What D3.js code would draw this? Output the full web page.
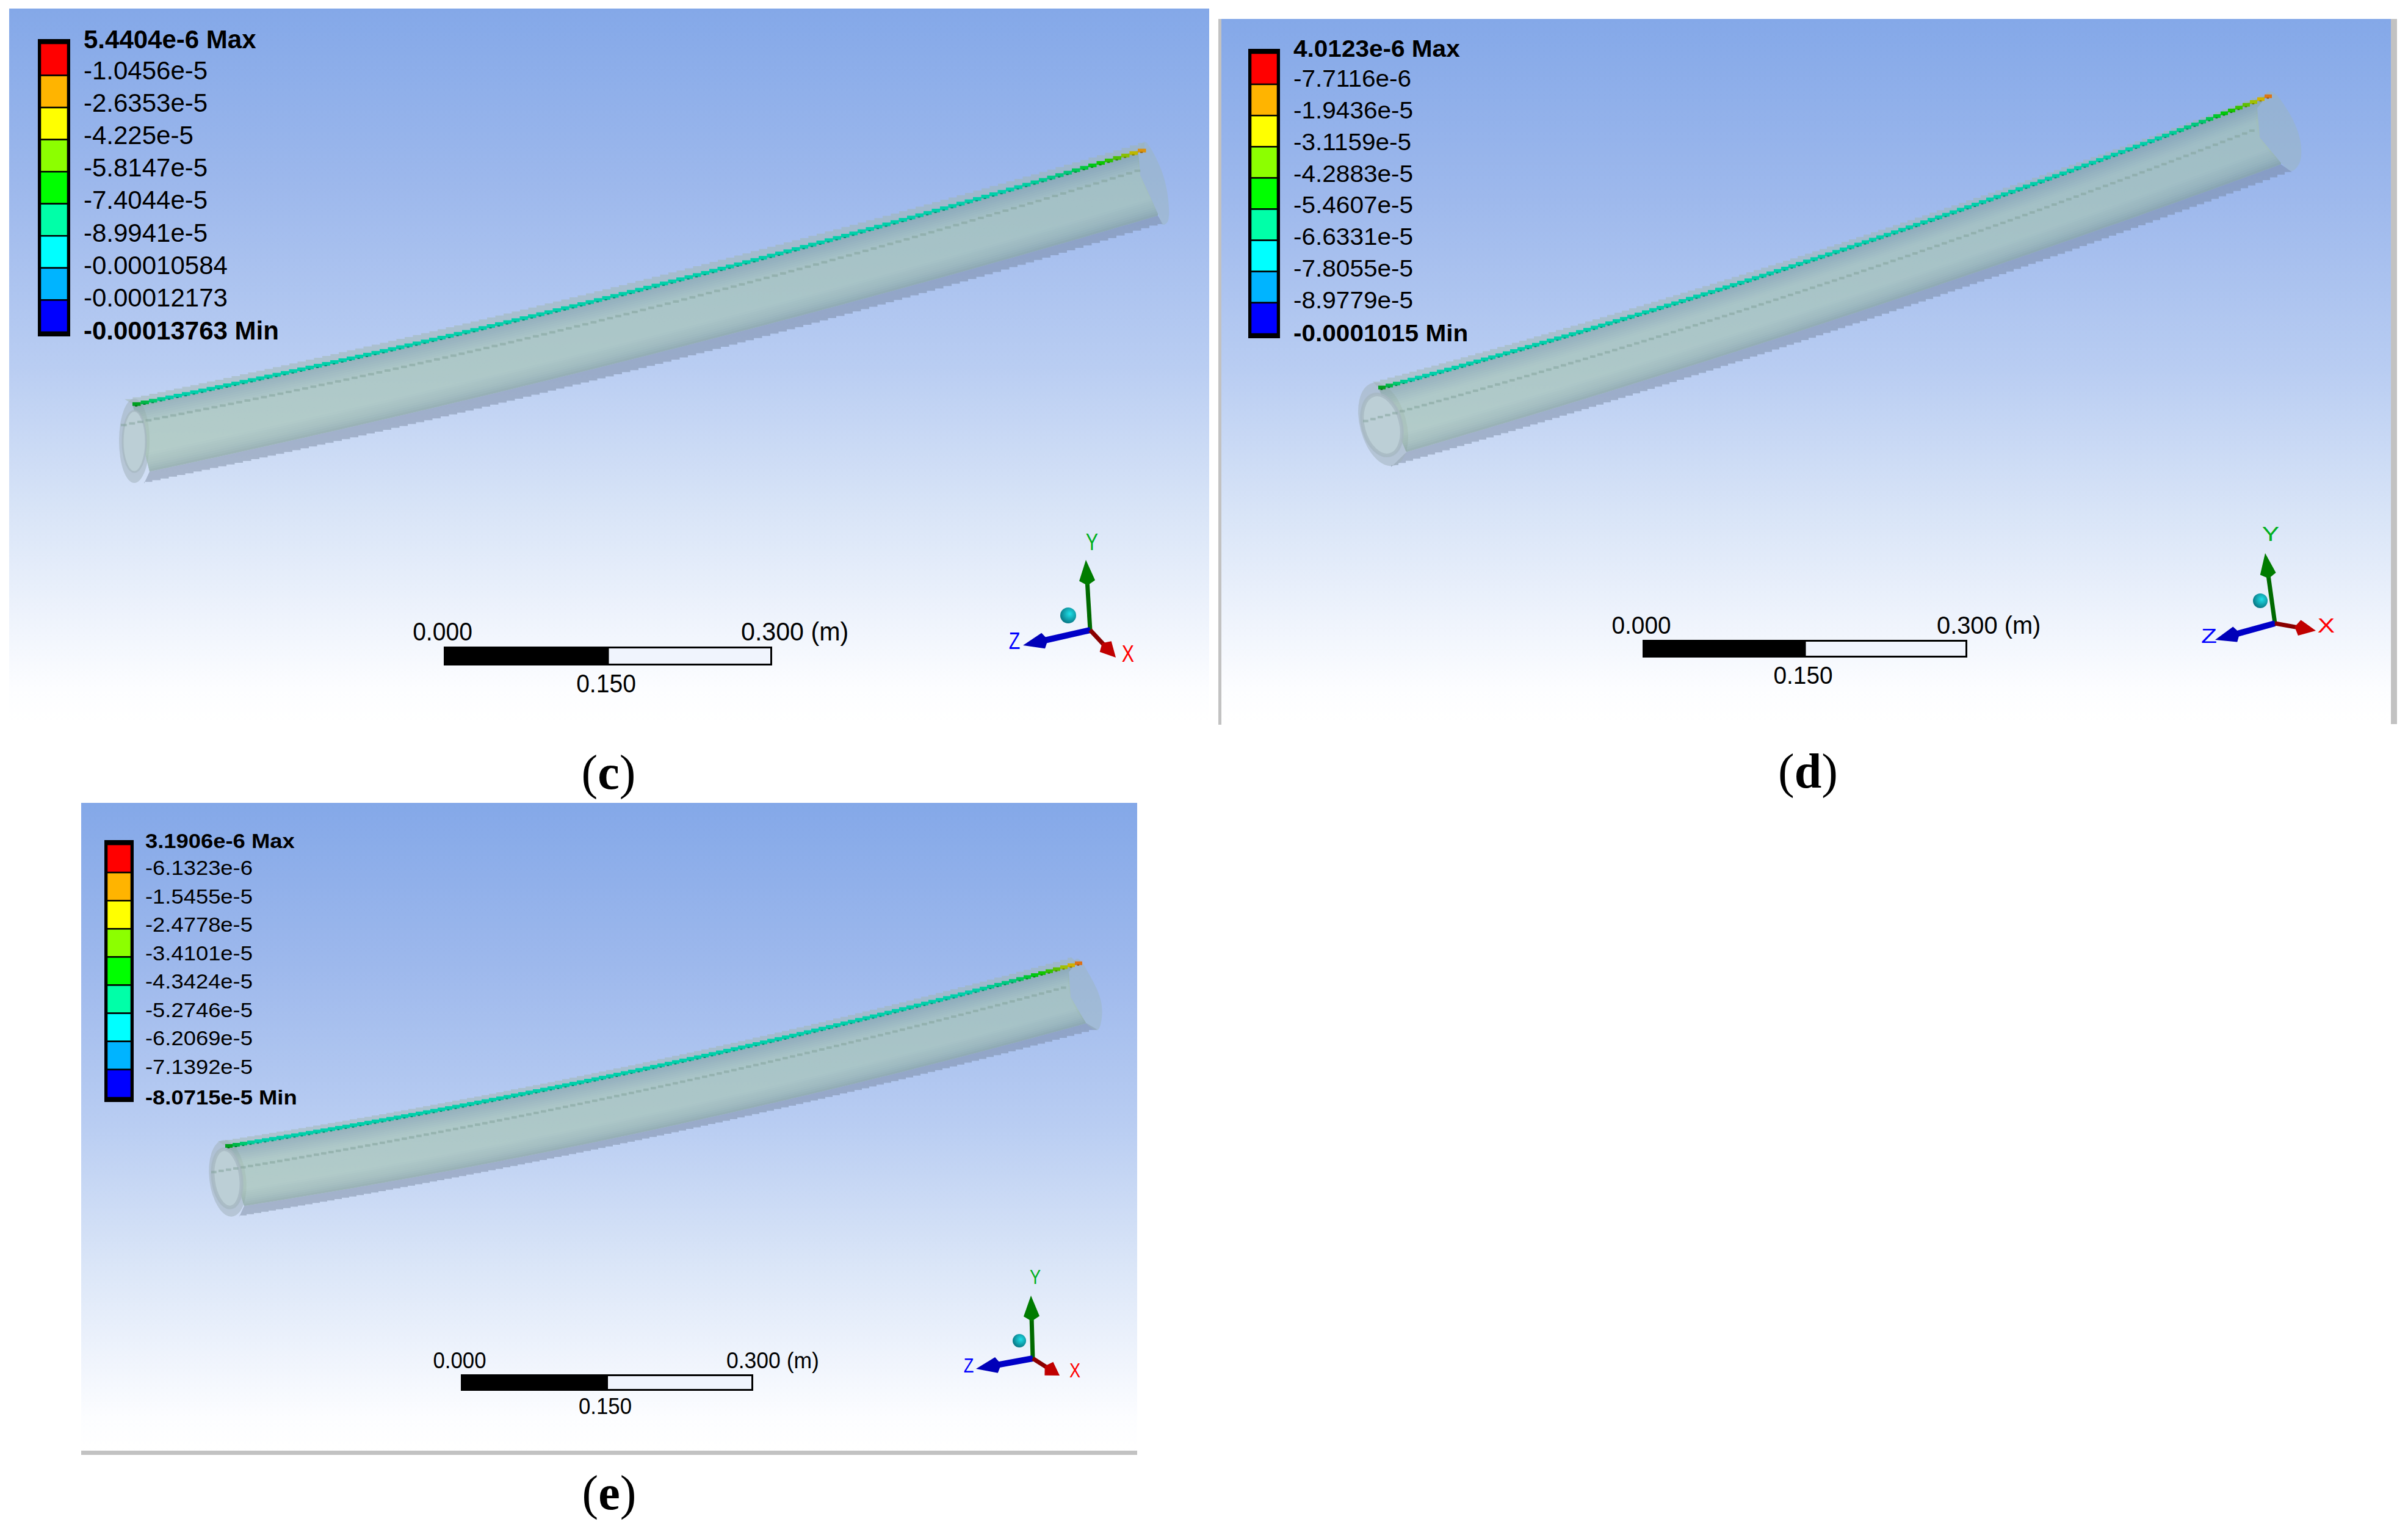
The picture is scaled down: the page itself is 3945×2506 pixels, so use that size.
<!DOCTYPE html>
<html>
<head>
<meta charset="utf-8">
<script src="https://cdn.jsdelivr.net/npm/d3@7"></script>
<style>html,body{margin:0;padding:0;background:#fff}svg{display:block}</style>
</head>
<body>
<script>
// ---- legend data
const legendColors = ["#ff0000","#ffb400","#ffff00","#8cff00","#00ff00","#00ffa8","#00ffff","#00b4ff","#0000ff"];
const cLabels = ["5.4404e-6 Max","-1.0456e-5","-2.6353e-5","-4.225e-5","-5.8147e-5","-7.4044e-5","-8.9941e-5","-0.00010584","-0.00012173","-0.00013763 Min"];
const dLabels = ["4.0123e-6 Max","-7.7116e-6","-1.9436e-5","-3.1159e-5","-4.2883e-5","-5.4607e-5","-6.6331e-5","-7.8055e-5","-8.9779e-5","-0.0001015 Min"];
const eLabels = ["3.1906e-6 Max","-6.1323e-6","-1.5455e-5","-2.4778e-5","-3.4101e-5","-4.3424e-5","-5.2746e-5","-6.2069e-5","-7.1392e-5","-8.0715e-5 Min"];
const scaleTicks = [0, 0.15, 0.3];
const captions = ["c","d","e"];

// ---- pipe outline, in figure units [along, across]
const cTop = [[204,653],[500,590],[800,520],[1148,433],[1500,337],[1875,232]];
const cBeam = [[217,662],[500,602],[800,533],[1148,447],[1500,353],[1875,243]];
const cMid = [[198,699],[233,691],[500,628],[800,567],[1148,487],[1500,387],[1862,277]];
const cInner = [[245,773],[500,716],[800,647],[1148,557],[1500,470],[1897,352]];
const cBottom = [[236,791],[500,737],[800,668],[1148,577],[1500,488],[1733,416],[1905,368]];
const cCap = [[1865,250],[1868,287],[1897,350],[1905,368],[1913,363],[1913,320],[1900,272],[1875,232]];

const dTop = [[2249,625],[2600,525],[2998,404],[3400,264],[3720,150]];
const dBeam = [[2258,635],[2600,538],[2998,413],[3400,276],[3715,155]];
const dMid = [[2233,689],[2600,587],[2998,460],[3400,320],[3697,210]];
const dInner = [[2304,740],[2600,655],[2998,520],[3400,396],[3737,267]];
const dBottom = [[2279,764],[2600,675],[2998,539],[3400,415],[3755,280]];
const dCap = [[3698,177],[3702,225],[3737,267],[3755,280],[3768,265],[3768,228],[3748,181],[3720,150]];

const eTop = [[357,1868],[530,1841],[794,1795],[1200,1705],[1468,1643],[1754,1568]];
const eBeam = [[369,1877],[530,1850],[794,1803],[1200,1718],[1468,1653],[1765,1577]];
const eMid = [[346,1920],[530,1887],[989,1802],[1200,1753],[1468,1683],[1745,1618]];
const eInner = [[400,1975],[644,1933],[874,1895],[1200,1820],[1468,1757],[1780,1677]];
const eBottom = [[392,1993],[644,1948],[874,1905],[1200,1836],[1468,1770],[1798,1687]];
const eCap = [[1751,1592],[1754,1633],[1780,1677],[1798,1687],[1805,1667],[1803,1637],[1785,1597],[1765,1570]];

// ---- contour colours along the beam (fraction of length -> colour)
const beamStops = [0,0.015,0.03,0.87,0.92,0.95,0.97,0.98,0.99,1];
const beamColors = ["#00a020","#00c868","#00d0aa","#00d0aa","#00c878","#00c800","#50c000","#a0c000","#d8b000","#e05820"];
// ---- shading across the pipe wall
const shadeStops = [0,0.1,0.3,0.72,0.9,1];
const shadeColors = ["#7f9b98","#8aa8a4","#a6c4b0","#a6c4b0","#92b0a3","#7c9a90"];

// ---- layout
const W = 3945, H = 2506;
const layout = [
 {id:"c",labels:cLabels,x:[15,1981],y:[14,1187],
  top:cTop,beam:cBeam,mid:cMid,inner:cInner,bottom:cBottom,cap:cCap,step:13.5,
  outerEnd:{cx:220,cy:722,rx:25,ry:69,rot:0},innerEnd:{cx:220,cy:723,rx:19,ry:50,rot:0},
  legend:{x:66,w:45,y0:71,y1:544,fx:137,fs:42,sx:1,ly:[79,129.5,502,556]},
  bar:{x0:727,x1:1265,y0:1059,y1:1090,ty:1049,my:1134,fs:42,sx:0.93,rsx:0.98,off:51},
  triad:{o:[1786,1032],Y:[1779,917],Z:[1676,1057],X:[1828,1077],lY:[1789,901],lZ:[1662,1063],lX:[1848,1084],dot:[1750,1008,13],fs:38,sx:0.8},
  cap_:{x:997,y:1292}},
 {id:"d",labels:dLabels,x:[2001,3917],y:[31,1186],
  top:dTop,beam:dBeam,mid:dMid,inner:dInner,bottom:dBottom,cap:dCap,step:12,
  outerEnd:{cx:2266,cy:695,rx:38,ry:70,rot:-15},innerEnd:{cx:2264,cy:696,rx:31,ry:51,rot:-15},
  legend:{x:2049,w:44,y0:87,y1:547,fx:2119,fs:39,sx:1.04,ly:[93,142,505,559]},
  bar:{x0:2691,x1:3223,y0:1048,y1:1077,ty:1038,my:1120,fs:40,sx:0.97,rsx:0.995,off:50},
  triad:{o:[3727,1021],Y:[3711,906],Z:[3629,1048],X:[3794,1033],lY:[3720,886],lZ:[3619,1053],lX:[3811,1036],dot:[3703,984,12],fs:34,sx:1.25},
  cap_:{x:2962,y:1290}},
 {id:"e",labels:eLabels,x:[133,1863],y:[1315,2376],
  top:eTop,beam:eBeam,mid:eMid,inner:eInner,bottom:eBottom,cap:eCap,step:12,
  outerEnd:{cx:373,cy:1930,rx:30,ry:63,rot:-7},innerEnd:{cx:372,cy:1930,rx:23,ry:48,rot:-7},
  legend:{x:175,w:40,y0:1383,y1:1798,fx:238,fs:34,sx:1.07,ly:[1389,1433,1759,1809]},
  bar:{x0:755,x1:1234,y0:2251,y1:2278,ty:2241,my:2316,fs:37,sx:0.94,rsx:0.96,off:44},
  triad:{o:[1692,2225],Y:[1689,2122],Z:[1599,2242],X:[1736,2253],lY:[1696,2103],lZ:[1587,2248],lX:[1761,2256],dot:[1670,2196,11],fs:34,sx:0.8},
  cap_:{x:998,y:2472}}
];
const greyBars = [[1996,31,5,1156],[3917,31,10,1155],[133,2376,1730,7]];
const sans = "'Liberation Sans',Arial,sans-serif";

const svg = d3.select("body").append("svg").attr("width",W).attr("height",H).attr("viewBox",[0,0,W,H]);
svg.append("rect").attr("width",W).attr("height",H).attr("fill","#fff");
const defs = svg.append("defs");
const bgGrad = defs.append("linearGradient").attr("id","bg").attr("x1",0).attr("x2",0).attr("y1",0).attr("y2",1);
[[0,"#84a8e8"],[0.25,"#9db8ec"],[0.5,"#b9cdf2"],[0.7,"#d8e4f7"],[0.85,"#eef3fc"],[0.95,"#fcfdff"],[1,"#ffffff"]]
  .forEach(([o,c])=>bgGrad.append("stop").attr("offset",o).attr("stop-color",c));
const dotGrad = defs.append("radialGradient").attr("id","dot").attr("cx","0.6").attr("cy","0.4").attr("r","0.7");
dotGrad.append("stop").attr("offset",0).attr("stop-color","#20e0e8");
dotGrad.append("stop").attr("offset",1).attr("stop-color","#056a78");

svg.selectAll("rect.grey").data(greyBars).join("rect").attr("class","grey")
  .attr("x",d=>d[0]).attr("y",d=>d[1]).attr("width",d=>d[2]).attr("height",d=>d[3]).attr("fill","#c2c2c2");

// smooth an outline: least-squares parabola through its points
const edgeFn = pts => {
  const xs=pts.map(d=>d[0]), x0=d3.min(xs), span=d3.max(xs)-x0;
  const u=x=>(x-x0)/span;
  const S=k=>d3.sum(pts,d=>Math.pow(u(d[0]),k)), R=k=>d3.sum(pts,d=>d[1]*Math.pow(u(d[0]),k));
  const M=[[S(0),S(1),S(2),R(0)],[S(1),S(2),S(3),R(1)],[S(2),S(3),S(4),R(2)]];
  for(let i=0;i<3;i++){ for(let j=i+1;j<3;j++){ const f=M[j][i]/M[i][i]; for(let k=i;k<4;k++) M[j][k]-=f*M[i][k]; } }
  const c=[0,0,0];
  for(let i=2;i>=0;i--){ let v=M[i][3]; for(let k=i+1;k<3;k++) v-=M[i][k]*c[k]; c[i]=v/M[i][i]; }
  return x=>{const t=u(x); return c[0]+c[1]*t+c[2]*t*t;};
};
const toPath = d3.line();
const stepPath = d3.line().curve(d3.curveStepAfter);

layout.forEach(p=>{
  const g = svg.append("g").attr("class","panel-"+p.id);
  const sx = d3.scaleLinear().domain(p.x).range(p.x), sy = d3.scaleLinear().domain(p.y).range(p.y);
  g.append("rect").attr("x",sx(p.x[0])).attr("y",sy(p.y[0])).attr("width",p.x[1]-p.x[0]).attr("height",p.y[1]-p.y[0]).attr("fill","url(#bg)");

  // ---- pipe
  const fTop=edgeFn(p.top), fBeam=edgeFn(p.beam), fMid=edgeFn(p.mid), fInner=edgeFn(p.inner), fBot=edgeFn(p.bottom);
  const stairs = (fn,pts)=>{ const a=pts[0][0], b=pts[pts.length-1][0];
    const r=d3.range(a,b,p.step).map(x=>[x,fn(x)]); r.push([b,fn(b)]); return r; };
  const tube = g.append("g");
  tube.append("path").attr("d",stepPath(stairs(fTop,p.top))+"L"+toPath(stairs(fBeam,p.beam).reverse()).slice(1)+"Z")
      .attr("fill","#a0b5ac").attr("fill-opacity",0.5);
  tube.append("path").attr("d",toPath(stairs(fInner,p.inner))+"L"+stepPath(stairs(fBot,p.bottom).reverse()).slice(1)+"Z")
      .attr("fill","#6e7d91").attr("fill-opacity",0.42);
  tube.append("path").attr("d",d3.line().curve(d3.curveCatmullRomClosed)(p.cap))
      .attr("fill","#9cb5bb").attr("fill-opacity",0.45);
  // end ring (outer)
  const ell = (sel,e)=>sel.append("ellipse").attr("rx",e.rx).attr("ry",e.ry)
      .attr("transform",`translate(${e.cx},${e.cy}) rotate(${e.rot})`);
  ell(tube,p.outerEnd).attr("fill","#a2b2bc").attr("fill-opacity",0.55);

  // inner wall, clipped to its outline
  const clipId="clip-"+p.id;
  const capLeft=p.cap.slice(0,3);
  defs.append("clipPath").attr("id",clipId).append("path")
     .attr("d",toPath(stairs(fBeam,p.beam).concat(capLeft,stairs(fInner,p.inner).reverse()))+"Z");
  const strips = g.append("g").attr("clip-path",`url(#${clipId})`).append("g").attr("opacity",0.63);
  const shade = d3.scaleLinear().domain(shadeStops).range(shadeColors);
  const N=30, xsAll=d3.range(p.beam[0][0]-80,p.cap[3][0]+60,24);
  d3.range(N).forEach(i=>{
    const f0=i/N, f1=(i+1.5)/N;
    const a=xsAll.map(x=>[x,fBeam(x)+f0*(fInner(x)-fBeam(x))]);
    const b=xsAll.map(x=>[x,fBeam(x)+f1*(fInner(x)-fBeam(x))]).reverse();
    strips.append("path").attr("d",toPath(a.concat(b))+"Z").attr("fill",shade((i+0.5)/N));
  });
  // open end disc
  ell(g,p.innerEnd).attr("fill","#bccfd6").attr("stroke","#a5b7c0").attr("stroke-width",p.id==="c"?3:6).attr("stroke-opacity",0.75);

  // dotted reference line
  const midX=d3.range(p.mid[0][0],p.mid[p.mid.length-1][0],p.step);
  g.append("g").selectAll("rect").data(midX).join("rect")
    .attr("x",d=>d).attr("y",d=>fMid(d)-2).attr("width",p.step*0.72).attr("height",4)
    .attr("fill","#7f9f97").attr("fill-opacity",0.5);

  // contour coloured beam
  const bx0=p.beam[0][0], bx1=p.beam[p.beam.length-1][0];
  const beamT=d3.scaleLinear().domain([bx0,bx1]).range([0,1]);
  const beamColor=d3.scaleLinear().domain(beamStops).range(beamColors);
  const beamX=d3.range(bx0,bx1,p.step);
  const beam=g.append("g");
  beam.selectAll("rect.b").data(beamX).join("rect").attr("class","b")
    .attr("x",d=>d).attr("y",d=>fBeam(d)-3).attr("width",p.step).attr("height",6)
    .attr("fill",d=>beamColor(beamT(d)));
  beam.selectAll("rect.s").data(beamX).join("rect").attr("class","s")
    .attr("x",d=>d+p.step*0.3).attr("y",d=>fBeam(d)+2).attr("width",p.step*0.3).attr("height",2)
    .attr("fill",d=>d3.color(beamColor(beamT(d))).darker(1));

  // ---- legend
  const L=p.legend;
  const cellY=d3.scaleBand().domain(d3.range(legendColors.length)).range([L.y0,L.y1]).paddingInner(0);
  g.append("rect").attr("x",L.x-2).attr("y",L.y0-5).attr("width",L.w+4).attr("height",L.y1-L.y0+10)
    .attr("fill","none").attr("stroke","#000").attr("stroke-width",4);
  g.append("rect").attr("x",L.x-2).attr("y",L.y0-5).attr("width",L.w+4).attr("height",5).attr("fill","#000");
  g.append("rect").attr("x",L.x-2).attr("y",L.y1).attr("width",L.w+4).attr("height",5).attr("fill","#000");
  g.append("g").selectAll("rect").data(legendColors).join("rect")
    .attr("x",L.x).attr("y",(d,i)=>cellY(i)).attr("width",L.w).attr("height",cellY.bandwidth())
    .attr("fill",d=>d).attr("stroke","#000").attr("stroke-width",2.5);
  const labelY=d3.scaleLinear().domain([0,1,p.labels.length-2,p.labels.length-1]).range(L.ly);
  g.append("g").selectAll("text").data(p.labels).join("text")
    .attr("transform",(d,i)=>`translate(${L.fx},${labelY(i)}) scale(${L.sx},1)`)
    .attr("font-family",sans).attr("font-size",L.fs).attr("fill","#000")
    .attr("font-weight",(d,i)=>(i===0||i===p.labels.length-1)?"bold":"normal")
    .text(d=>d);

  // ---- scale bar
  const B=p.bar;
  const bs=d3.scaleLinear().domain([scaleTicks[0],scaleTicks[2]]).range([B.x0,B.x1]);
  g.append("rect").attr("x",bs(scaleTicks[1])).attr("y",B.y0+1.5).attr("width",bs(scaleTicks[2])-bs(scaleTicks[1])-1.5).attr("height",B.y1-B.y0-3)
    .attr("fill","#f0f4fd").attr("stroke","#000").attr("stroke-width",3);
  g.append("rect").attr("x",bs(scaleTicks[0])).attr("y",B.y0).attr("width",bs(scaleTicks[1])-bs(scaleTicks[0])).attr("height",B.y1-B.y0).attr("fill","#000");
  const tickFmt=d3.format(".3f");
  g.append("g").selectAll("text").data(scaleTicks).join("text")
    .attr("transform",(d,i)=>{
       const x = i===1 ? bs(d)-3 : i===0 ? bs(d)-2 : bs(d)-B.off;
       const y = i===1 ? B.my : B.ty;
       return `translate(${x},${y}) scale(${i===2?B.rsx:B.sx},1)`;})
    .attr("text-anchor",(d,i)=>i===2?"start":"middle")
    .attr("font-family",sans).attr("font-size",B.fs).attr("fill","#000")
    .text((d,i)=>tickFmt(d)+(i===2?" (m)":""));

  // ---- triad
  const T=p.triad;
  const arrow=(tip,shaft,head,w)=>{
    const dx=tip[0]-T.o[0], dy=tip[1]-T.o[1], len=Math.hypot(dx,dy), ux=dx/len, uy=dy/len, nx=-uy, ny=ux;
    g.append("line").attr("x1",T.o[0]).attr("y1",T.o[1]).attr("x2",tip[0]-ux*len*0.2).attr("y2",tip[1]-uy*len*0.2)
      .attr("stroke",shaft).attr("stroke-width",w);
    const hl=Math.min(34,len*0.4), hb=[tip[0]-ux*hl,tip[1]-uy*hl], hw=13;
    g.append("path").attr("d",toPath([tip,[hb[0]+nx*hw,hb[1]+ny*hw],[hb[0]-ux*8,hb[1]-uy*8],[hb[0]-nx*hw,hb[1]-ny*hw]])+"Z").attr("fill",head);
  };
  arrow(T.Y,"#006a00","#007c00",7);
  arrow(T.Z,"#0000c8","#0000b8",10);
  arrow(T.X,"#8a0000","#c00000",7);
  g.append("circle").attr("cx",T.dot[0]).attr("cy",T.dot[1]).attr("r",T.dot[2]).attr("fill","url(#dot)");
  [["Y",T.lY,"#00b020"],["Z",T.lZ,"#0000ff"],["X",T.lX,"#ff0000"]].forEach(([t,pos,c])=>{
    g.append("text").attr("transform",`translate(${pos[0]},${pos[1]}) scale(${T.sx},1)`)
      .attr("text-anchor","middle").attr("font-family",sans).attr("font-size",T.fs).attr("fill",c).text(t);
  });

  // ---- caption
  const cap=g.append("text").attr("x",p.cap_.x).attr("y",p.cap_.y).attr("text-anchor","middle")
    .attr("font-family","'Liberation Serif','Times New Roman',serif").attr("font-size",80).attr("fill","#000");
  cap.append("tspan").text("(");
  cap.append("tspan").attr("font-weight","bold").text(p.id);
  cap.append("tspan").text(")");
});
</script>
</body>
</html>
